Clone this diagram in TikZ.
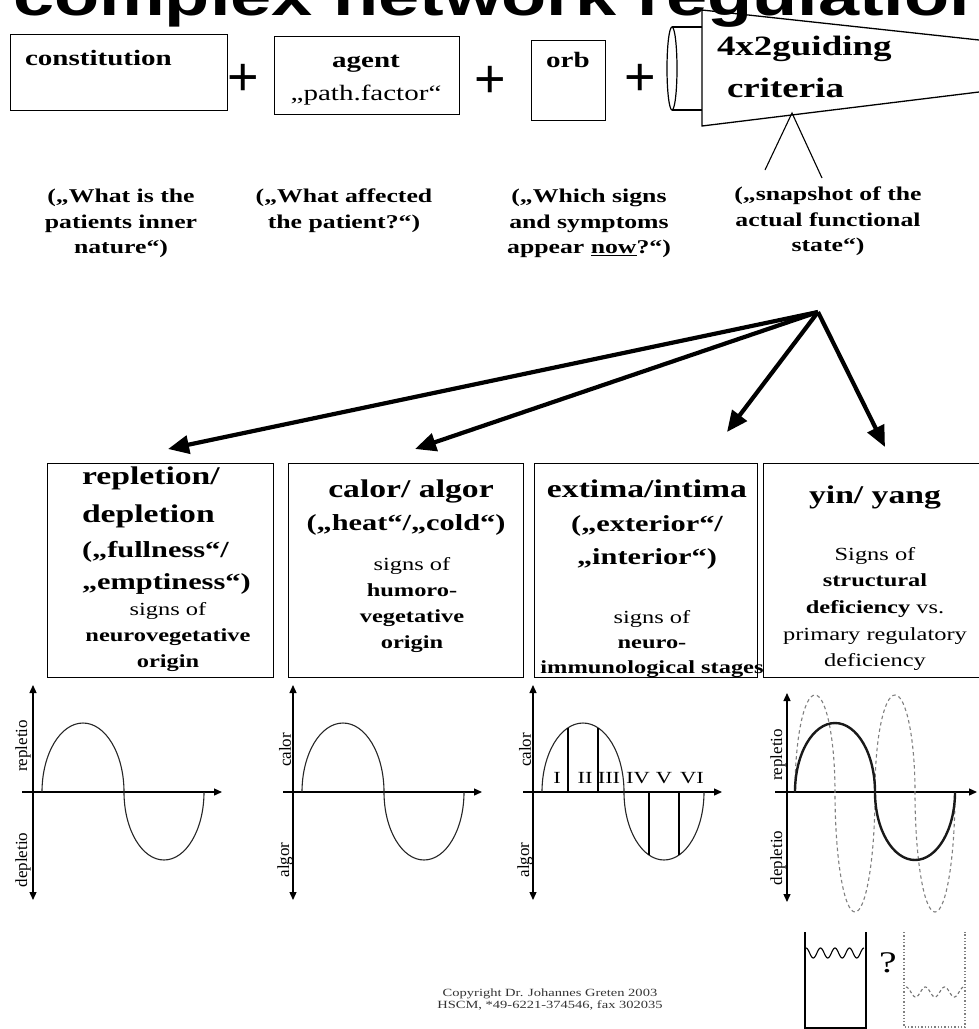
\documentclass[tikz,border=0pt]{standalone}
\usepackage{fontspec}
\setmainfont[FakeStretch=1.32]{Liberation Serif}
\newfontfamily\plainserif{Liberation Serif}
\newfontfamily\titlefont[FakeStretch=1.32]{Liberation Sans}
\newfontfamily\plusfont{Liberation Sans}
\usetikzlibrary{arrows.meta}
\newcommand{\fsz}[2]{\fontsize{#1}{#2}\selectfont}
\tikzset{
  box/.style={draw, line width=1.4pt, inner sep=0pt, anchor=north west},
  tx/.style={inner sep=0pt, outer sep=0pt},
  tTop/.style={tx, font=\bfseries\fsz{22}{26}},
  tA/.style={tx, font=\bfseries\fsz{25.5}{38}},
  tB/.style={tx, font=\bfseries\fsz{23}{32}},
  tC/.style={tx, font=\fsz{18.5}{26}, align=center},
  tQ/.style={tx, font=\bfseries\fsz{19.5}{25.5}, align=center},
  plus/.style={tx, font=\plusfont\fsz{54}{54}},
  bigarrow/.style={line width=4.2pt, -{Triangle[length=21pt,width=18pt]}},
  axis/.style={line width=1.3pt},
  axboth/.style={axis, {Triangle[length=8pt,width=7pt]}-{Triangle[length=8pt,width=7pt]}},
  axright/.style={axis, -{Triangle[length=8pt,width=7pt]}},
  curve/.style={line width=1.1pt, black!85},
  lbl/.style={tx, font=\plainserif\fsz{17}{17}, rotate=90},
  num/.style={tx, font=\fsz{17}{17}, anchor=base},
}
\begin{document}
\begin{tikzpicture}[x=1pt,y=-1pt]
\useasboundingbox (0,0) rectangle (979,1029);

% title
\node[tx, anchor=base west, font=\titlefont\bfseries\fsz{56}{60}] (title) at (13,15) {complex network regulation};

% top row
\node[box, minimum width=217pt, minimum height=76pt] (constitution) at (10,34) {};
\node[tTop, anchor=base west] (constxt) at (25,65) {constitution};
\node[plus] (p1) at (243,80) {+};
\node[box, minimum width=185pt, minimum height=78pt] (agent) at (274,36) {};
\node[tTop, anchor=base] (agenttxt) at (366,67) {agent};
\node[tx, anchor=base, font=\fsz{22}{26}] (pathf) at (366,100) {„path.factor“};
\node[plus] (p2) at (490,82) {+};
\node[box, minimum width=74pt, minimum height=80pt] (orb) at (531,40) {};
\node[tTop, anchor=base] (orbtxt) at (568,67) {orb};
\node[plus] (p3) at (640,80) {+};

% tube and funnel
\draw[line width=1.2pt] (672,68.5) ellipse [x radius=5, y radius=41.5];
\draw[line width=1.2pt] (672,27) -- (702,27) (672,110) -- (702,110);
\draw[line width=1.3pt] (979,40) -- (702,10) -- (702,126) -- (979,92);
\node[tx, anchor=base west, font=\bfseries\fsz{28}{30}] (guiding) at (717,55) {4x2guiding};
\node[tx, anchor=base west, font=\bfseries\fsz{28}{30}] (criteria) at (727,97) {criteria};
\coordinate (apex) at (792,113);
\coordinate (sl) at (765,170);
\coordinate (sr) at (822,178);
\draw[line width=1.1pt] (sl) -- (apex) -- (sr);

% question texts
\node[tQ, anchor=north] (q1) at (121,189) {(„What is the\\patients inner\\nature“)};
\node[tQ, anchor=north] (q2) at (344,189) {(„What affected\\the patient?“)};
\node[tQ, anchor=north] (q3) at (589,189) {(„Which signs\\and symptoms\\appear \underline{now}?“)};
\node[tQ, anchor=north] (q4) at (828,187) {(„snapshot of the\\actual functional\\state“)};

% big arrows
\coordinate (hub) at (818,312);
\coordinate (t1) at (168,449);
\coordinate (t2) at (415,449);
\coordinate (t3) at (727,432);
\coordinate (t4) at (885,447);
\draw[bigarrow] (hub) -- (t1);
\draw[bigarrow] (hub) -- (t2);
\draw[bigarrow] (hub) -- (t3);
\draw[bigarrow] (hub) -- (t4);

% lower boxes
\node[box, minimum width=226pt, minimum height=214pt] (b1) at (47,463) {};
\node[box, minimum width=235pt, minimum height=214pt] (b2) at (288,463) {};
\node[box, minimum width=223pt, minimum height=214pt] (b3) at (534,463) {};
\node[box, minimum width=216pt, minimum height=214pt] (b4) at (763,463) {};

% box 1 text
\node[tA, anchor=north west, align=left] (b1a) at (82,467) {repletion/\\depletion};
\node[tB, anchor=north west, align=left] (b1b) at (82,541) {(„fullness“/\\„emptiness“)};
\node[tC, anchor=north] (b1c) at (168,602) {signs of\\\textbf{neurovegetative}\\\textbf{origin}};

% box 2 text
\node[tA, anchor=base] (b2a) at (411,497) {calor/ algor};
\node[tB, anchor=base] (b2b) at (406,530) {(„heat“/„cold“)};
\node[tC, anchor=north] (b2c) at (412,557) {signs of\\\textbf{humoro-}\\\textbf{vegetative}\\\textbf{origin}};

% box 3 text
\node[tA, anchor=base] (b3a) at (647,497) {extima/intima};
\node[tB, anchor=north, align=center, font=\bfseries\fsz{23}{33}] (b3b) at (647,516) {(„exterior“/\\„interior“)};
\node[tC, anchor=north, font=\fsz{18.5}{25}] (b3c) at (652,610) {signs of\\\textbf{neuro-}\\\textbf{immunological stages}};

% box 4 text
\node[tA, anchor=base] (b4a) at (875,503) {yin/ yang};
\node[tC, anchor=north, font=\fsz{18.5}{26.7}] (b4c) at (875,547) {Signs of\\\textbf{structural}\\\textbf{deficiency} vs.\\primary regulatory\\deficiency};

% graph 1
\draw[axboth] (33,685) -- (33,900);
\draw[axright] (22,792) -- (222,792);
\draw[curve] (42,792) arc[start angle=180, end angle=360, x radius=41, y radius=69];
\draw[curve] (124,792) arc[start angle=180, end angle=0, x radius=40, y radius=68];
\node[lbl] (g1u) at (23,746) {repletio};
\node[lbl] (g1d) at (23,860) {depletio};

% graph 2
\draw[axboth] (293,685) -- (293,900);
\draw[axright] (283,792) -- (482,792);
\draw[curve] (302,792) arc[start angle=180, end angle=360, x radius=41, y radius=69];
\draw[curve] (384,792) arc[start angle=180, end angle=0, x radius=40, y radius=68];
\node[lbl] (g2u) at (285,750) {calor};
\node[lbl] (g2d) at (285,860) {algor};

% graph 3
\draw[axboth] (533,685) -- (533,900);
\draw[axright] (523,792) -- (722,792);
\draw[curve] (542,792) arc[start angle=180, end angle=360, x radius=41, y radius=69];
\draw[curve] (624,792) arc[start angle=180, end angle=0, x radius=40, y radius=68];
\draw[line width=1.2pt] (568,792) -- (568,728) (598,792) -- (598,728);
\draw[line width=1.2pt] (649,792) -- (649,855) (679,792) -- (679,855);
\node[lbl] (g3u) at (525,750) {calor};
\node[lbl] (g3d) at (525,860) {algor};
\node[num] (n1) at (557,783) {I};
\node[num] (n2) at (585,783) {II};
\node[num] (n3) at (609,783) {III};
\node[num] (n4) at (638,783) {IV};
\node[num] (n5) at (664,783) {V};
\node[num] (n6) at (692,783) {VI};

% graph 4
\draw[axboth] (787,693) -- (787,902);
\draw[axright] (775,792) -- (977,792);
\draw[black!50, line width=1.1pt, dash pattern=on 3.5pt off 3pt]
  (795,792) arc[start angle=180, end angle=360, x radius=20, y radius=97]
  arc[start angle=180, end angle=0, x radius=20, y radius=120]
  arc[start angle=180, end angle=360, x radius=20, y radius=97]
  arc[start angle=180, end angle=0, x radius=20, y radius=120];
\draw[line width=2.4pt, black!90] (795,792) arc[start angle=180, end angle=360, x radius=40, y radius=69];
\draw[line width=2.4pt, black!90] (875,792) arc[start angle=180, end angle=0, x radius=40, y radius=68];
\node[lbl] (g4u) at (778,755) {repletio};
\node[lbl] (g4d) at (778,858) {depletio};

% glasses
\draw[line width=1.5pt] (805,932) -- (805,1028) -- (866,1028) -- (866,932);
\draw[line width=1.1pt] plot[domain=0:58, samples=120, smooth] ({806+\x}, {953-5*cos(\x*24.83)});
\node[tx, font=\fsz{30}{30}] (qm) at (888,963) {?};
\draw[black!50, line width=1.3pt, dotted] (904,932) -- (904,1027) -- (965,1027) -- (965,932);
\draw[black!55, line width=1.1pt, dash pattern=on 3pt off 2.5pt] plot[domain=0:58, samples=120, smooth] ({906+\x}, {992-5*cos(\x*18.65)});

% copyright
\node[tx, anchor=north, align=center, font=\fsz{11}{11.5}, text=black!80] (copy) at (550,989) {Copyright Dr. Johannes Greten 2003\\HSCM, *49-6221-374546, fax 302035};

\end{tikzpicture}
\end{document}
